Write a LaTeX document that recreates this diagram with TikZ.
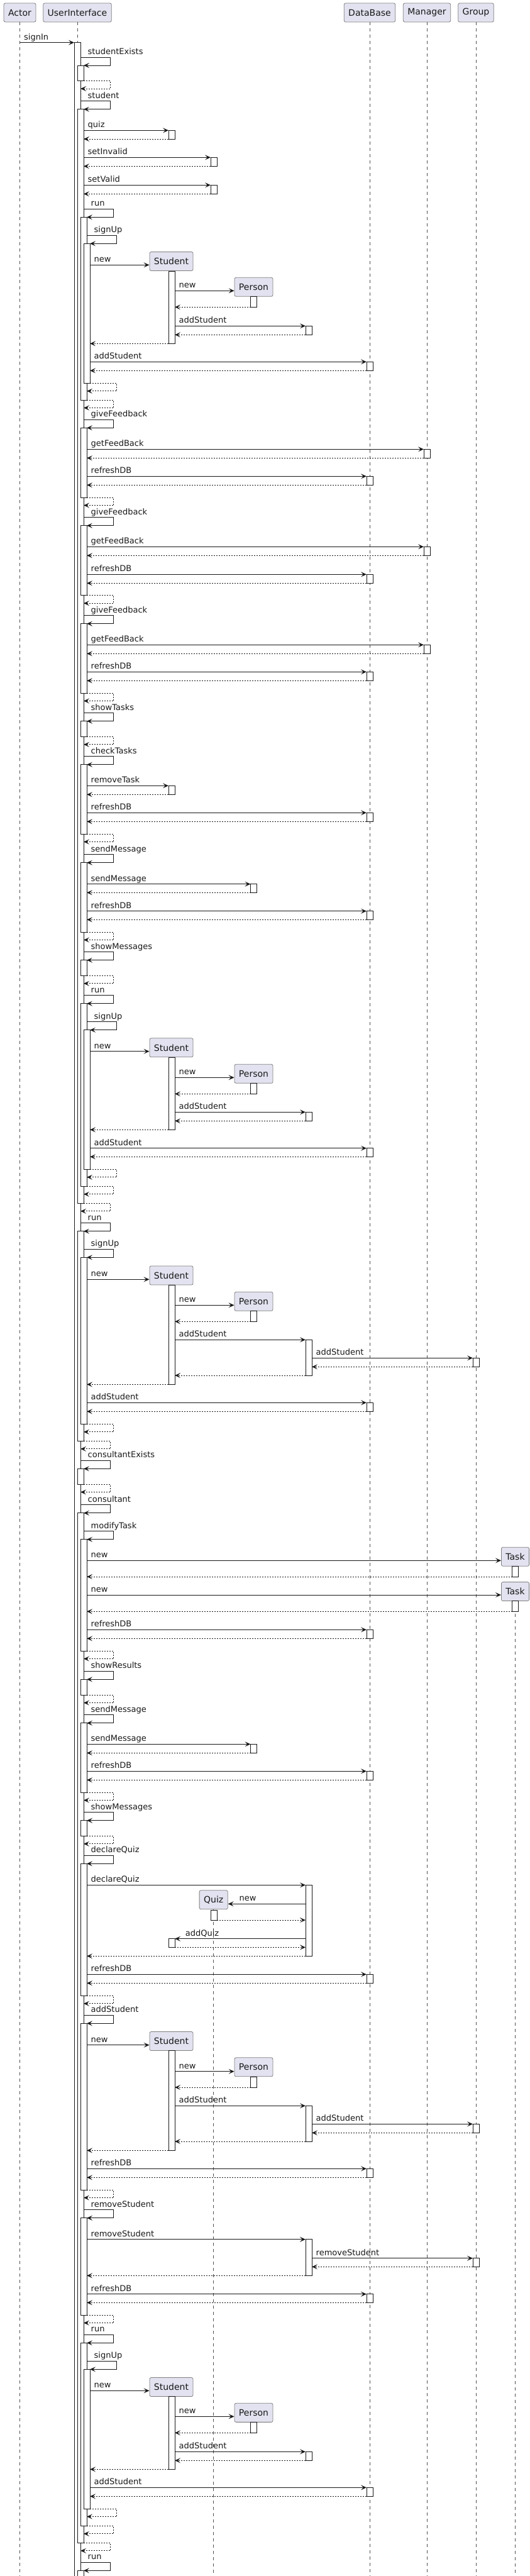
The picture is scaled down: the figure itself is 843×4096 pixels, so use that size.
\documentclass[tikz,border=0pt]{standalone}
\usepackage{fontspec}
\setmainfont{DejaVu Sans}
\usetikzlibrary{arrows.meta}
\definecolor{partfill}{HTML}{E2E2F0}
\definecolor{ink}{HTML}{181818}
\tikzstyle{participant} = [rectangle, rounded corners=2.5pt, draw=ink!55, fill=partfill, line width=0.8pt, minimum height=30pt, inner xsep=7pt, text=ink, font=\fontsize{14}{16}\selectfont]
\tikzstyle{lifeline} = [draw=ink!75, line width=0.5pt, dash pattern=on 5pt off 5pt]
\tikzstyle{activation} = [draw=ink, fill=white, line width=1pt]
\tikzstyle{call} = [draw=ink, line width=1pt, -{Stealth[length=9pt,width=8pt,inset=4pt]}]
\tikzstyle{reply} = [call, dash pattern=on 2pt off 2pt]
\tikzstyle{msglabel} = [anchor=base west, inner sep=0pt, text=ink, font=\fontsize{13}{15}\selectfont]
\newcommand{\uiact}[3]{\draw[activation] ({113+5*#1},#2) rectangle ({123+5*#1},#3);}
\newcommand{\actbox}[3]{\draw[activation] ({#1-5},#2) rectangle ({#1+5},#3);}
\newcommand{\msg}[4]{\draw[call] (#1,#3) -- (#2,#3); \node[msglabel] at ({#1+6.5},{#3-4.5}) {#4};}
\newcommand{\ret}[3]{\draw[reply] (#1,#3) -- (#2,#3);}
\newcommand{\callto}[5]{\msg{#1}{#2-5}{#3}{#5}\actbox{#2}{#3}{#4}\ret{#2-5}{#1}{#4}}
\newcommand{\newmsg}[4]{\coordinate (hy) at (0,#2); \draw[call] (#1,#2) -- (#3.west |- hy); \node[msglabel] at ({#1+6.5},{#2-4.5}) {#4};}
\newcommand{\selfcall}[3]{\draw[call] ({123+5*#1},#2) -- ({170.5+5*#1},#2) -- ({170.5+5*#1},{#2+13}) -- ({128+5*#1},{#2+13}); \node[msglabel] at ({134.5+5*#1},{#2-4.5}) {#3};}
\newcommand{\selfret}[2]{\draw[reply] ({123+5*#1},#2) -- ({165.5+5*#1},#2) -- ({165.5+5*#1},{#2+12.5}) -- ({118+5*#1},{#2+12.5});}

\begin{document}
\begin{tikzpicture}[x=1pt,y=-1pt]
    \useasboundingbox (0,0) rectangle (843,4096);
    \coordinate (bottom) at (0,4096);
    \node (actor) [participant] at (31.5,20) {Actor};
    \node (ui) [participant] at (123,20) {UserInterface};
    \node (db) [participant] at (588,20) {DataBase};
    \node (manager) [participant] at (679,20) {Manager};
    \node (group) [participant] at (757,20) {Group};
    \node (student1) [participant] at (272.5,415.5) {Student};
    \node (person1) [participant] at (403.5,456.3) {Person};
    \node (student2) [participant] at (272.5,1665.8) {Student};
    \node (person2) [participant] at (403.5,1707.3) {Person};
    \node (student3) [participant] at (272.5,2028) {Student};
    \node (person3) [participant] at (403.5,2069.3) {Person};
    \node (task1) [participant] at (819.5,2475.2) {Task};
    \node (task2) [participant] at (819.5,2530.5) {Task};
    \node (quiz1) [participant] at (339.7,3020.7) {Quiz};
    \node (student4) [participant] at (272.5,3245.5) {Student};
    \node (person4) [participant] at (403.5,3286.8) {Person};
    \node (student5) [participant] at (272.5,3795.5) {Student};
    \node (person5) [participant] at (403.5,3836.3) {Person};

    \draw[lifeline] (actor.south) -- (actor.south |- bottom);
    \draw[lifeline] (ui.south) -- (ui.south |- bottom);
    \draw[lifeline] (db.south) -- (db.south |- bottom);
    \draw[lifeline] (manager.south) -- (manager.south |- bottom);
    \draw[lifeline] (group.south) -- (group.south |- bottom);
    \draw[lifeline] (task2.south) -- (task2.south |- bottom);
    \draw[lifeline] (quiz1.south) -- (quiz1.south |- bottom);

    \uiact{1}{67.7}{4100}
    \uiact{2}{104.3}{128.5}
    \uiact{2}{173.3}{1913.3}
    \uiact{2}{1957.3}{2291.3}
    \uiact{2}{2335.3}{2360}
    \uiact{2}{2405}{4043.3}
    \uiact{2}{4087.3}{4100}
    \uiact{3}{345}{636}
    \uiact{3}{680.3}{791}
    \uiact{3}{835.3}{946.7}
    \uiact{3}{991.3}{1102}
    \uiact{3}{1146.3}{1171.3}
    \uiact{3}{1215.3}{1326}
    \uiact{3}{1371.3}{1482}
    \uiact{3}{1526.3}{1551.3}
    \uiact{3}{1595.3}{1886.3}
    \uiact{3}{1999.3}{2264.3}
    \uiact{3}{2447.3}{2625}
    \uiact{3}{2670.3}{2695}
    \uiact{3}{2739.3}{2850}
    \uiact{3}{2894}{2919.3}
    \uiact{3}{2963.3}{3173.3}
    \uiact{3}{3217.3}{3482}
    \uiact{3}{3526.3}{3681}
    \uiact{3}{3725.3}{4016.3}
    \uiact{4}{387.3}{609.3}
    \uiact{4}{1637.3}{1859.3}
    \uiact{4}{3767.3}{3989}

    \msg{31.5}{118}{67.7}{signIn}
    \selfcall{1}{91}{studentExists}
    \selfret{2}{128.5}
    \selfcall{1}{160.7}{student}
    \callto{133}{273}{207.3}{221}{quiz}
    \callto{133}{340}{250.3}{264.3}{setInvalid}
    \callto{133}{340}{294.3}{308.3}{setValid}
    \selfcall{2}{332.3}{run}
    \selfcall{3}{374.3}{signUp}
    \newmsg{143}{421.3}{student1}{new}
    \actbox{273}{431.3}{546.3}
    \newmsg{278}{462.3}{person1}{new}
    \actbox{403.5}{471.3}{488.3}
    \ret{398.5}{278}{488.3}
    \callto{278}{491}{518.3}{532.3}{addStudent}
    \ret{268}{143}{546.3}
    \callto{143}{588}{575.3}{589.3}{addStudent}
    \selfret{4}{609.3}
    \selfret{3}{636}

    \selfcall{2}{667.3}{giveFeedback}
    \callto{138}{679}{714.3}{728.3}{getFeedBack}
    \callto{138}{588}{757.3}{771.3}{refreshDB}
    \selfret{3}{791}
    \selfcall{2}{822.7}{giveFeedback}
    \callto{138}{679}{869.3}{883.3}{getFeedBack}
    \callto{138}{588}{913.3}{927.3}{refreshDB}
    \selfret{3}{946.7}
    \selfcall{2}{978.7}{giveFeedback}
    \callto{138}{679}{1025.3}{1039.3}{getFeedBack}
    \callto{138}{588}{1068.3}{1082.3}{refreshDB}
    \selfret{3}{1102}
    \selfcall{2}{1133.7}{showTasks}
    \selfret{3}{1171.3}
    \selfcall{2}{1202.7}{checkTasks}
    \callto{138}{273}{1249.3}{1263.3}{removeTask}
    \callto{138}{588}{1292.3}{1306.3}{refreshDB}
    \selfret{3}{1326}
    \selfcall{2}{1358.7}{sendMessage}
    \callto{138}{403.5}{1405.7}{1419.3}{sendMessage}
    \callto{138}{588}{1448.7}{1462.3}{refreshDB}
    \selfret{3}{1482}
    \selfcall{2}{1513.7}{showMessages}
    \selfret{3}{1551.3}
    \selfcall{2}{1582.7}{run}
    \selfcall{3}{1624.7}{signUp}
    \newmsg{143}{1671.7}{student2}{new}
    \actbox{273}{1681.3}{1796.3}
    \newmsg{278}{1713.3}{person2}{new}
    \actbox{403.5}{1722.3}{1739.3}
    \ret{398.5}{278}{1739.3}
    \callto{278}{491}{1768.3}{1782.3}{addStudent}
    \ret{268}{143}{1796.3}
    \callto{143}{588}{1825.7}{1839.3}{addStudent}
    \selfret{4}{1859.3}
    \selfret{3}{1886.3}
    \selfret{2}{1913.3}

    \selfcall{1}{1944.7}{run}
    \selfcall{2}{1986.3}{signUp}
    \newmsg{138}{2034.3}{student3}{new}
    \actbox{273}{2043.3}{2201.3}
    \newmsg{278}{2075.3}{person3}{new}
    \actbox{403.5}{2084.3}{2101.3}
    \ret{398.5}{278}{2101.3}
    \msg{278}{486}{2130.3}{addStudent}
    \actbox{491}{2130.3}{2187}
    \callto{496}{757}{2159.3}{2173.3}{addStudent}
    \ret{486}{278}{2187}
    \ret{268}{138}{2201.3}
    \callto{138}{588}{2230.3}{2244.3}{addStudent}
    \selfret{3}{2264.3}
    \selfret{2}{2291.3}
    \selfcall{1}{2322.3}{consultantExists}
    \selfret{2}{2360}
    \selfcall{1}{2392.7}{consultant}

    \selfcall{2}{2434.7}{modifyTask}
    \newmsg{138}{2481.3}{task1}{new}
    \actbox{819.5}{2490}{2507}
    \ret{814.5}{138}{2507}
    \newmsg{138}{2536}{task2}{new}
    \actbox{819.5}{2545.7}{2562.3}
    \ret{814.5}{138}{2562.3}
    \callto{138}{588}{2591.3}{2605.3}{refreshDB}
    \selfret{3}{2625}
    \selfcall{2}{2657.3}{showResults}
    \selfret{3}{2695}
    \selfcall{2}{2726.7}{sendMessage}
    \callto{138}{403.5}{2773.3}{2787.3}{sendMessage}
    \callto{138}{588}{2816.3}{2830.3}{refreshDB}
    \selfret{3}{2850}
    \selfcall{2}{2881.7}{showMessages}
    \selfret{3}{2919.3}
    \selfcall{2}{2950.3}{declareQuiz}
    \msg{138}{486}{2997.3}{declareQuiz}
    \actbox{491}{2997.3}{3110.3}
    \coordinate (qy) at (0,3027.3);
    \draw[call] (486,3027.3) -- (quiz1.east |- qy);
    \node[msglabel] at (380.5,3022.8) {new};
    \actbox{340}{3037.3}{3053}
    \ret{345}{486}{3053}
    \draw[call] (486,3082.7) -- (278,3082.7);
    \node[msglabel] at (294.6,3078.2) {addQuiz};
    \actbox{273}{3082.7}{3096.3}
    \ret{278}{486}{3096.3}
    \ret{486}{138}{3110.3}
    \callto{138}{588}{3139.3}{3153.3}{refreshDB}
    \selfret{3}{3173.3}

    \selfcall{2}{3204.3}{addStudent}
    \newmsg{138}{3251.7}{student4}{new}
    \actbox{273}{3260.3}{3419.3}
    \newmsg{278}{3293.7}{person4}{new}
    \actbox{403.5}{3302.3}{3319}
    \ret{398.5}{278}{3319}
    \msg{278}{486}{3348.3}{addStudent}
    \actbox{491}{3348.3}{3405}
    \callto{496}{757}{3377.3}{3391.3}{addStudent}
    \ret{486}{278}{3405}
    \ret{268}{138}{3419.3}
    \callto{138}{588}{3448.3}{3462.3}{refreshDB}
    \selfret{3}{3482}
    \selfcall{2}{3513.7}{removeStudent}
    \msg{138}{486}{3560.7}{removeStudent}
    \actbox{491}{3560.7}{3618.3}
    \callto{496}{757}{3590.7}{3604.3}{removeStudent}
    \ret{486}{138}{3618.3}
    \callto{138}{588}{3647.7}{3661.3}{refreshDB}
    \selfret{3}{3681}

    \selfcall{2}{3712.3}{run}
    \selfcall{3}{3754.3}{signUp}
    \newmsg{143}{3801.3}{student5}{new}
    \actbox{273}{3810.3}{3926.3}
    \newmsg{278}{3842.3}{person5}{new}
    \actbox{403.5}{3851.3}{3868.3}
    \ret{398.5}{278}{3868.3}
    \callto{278}{491}{3898.3}{3912.3}{addStudent}
    \ret{268}{143}{3926.3}
    \callto{143}{588}{3955.3}{3969.3}{addStudent}
    \selfret{4}{3989}
    \selfret{3}{4016.3}
    \selfret{2}{4043.3}
    \selfcall{1}{4074.3}{run}
\end{tikzpicture}
\end{document}
